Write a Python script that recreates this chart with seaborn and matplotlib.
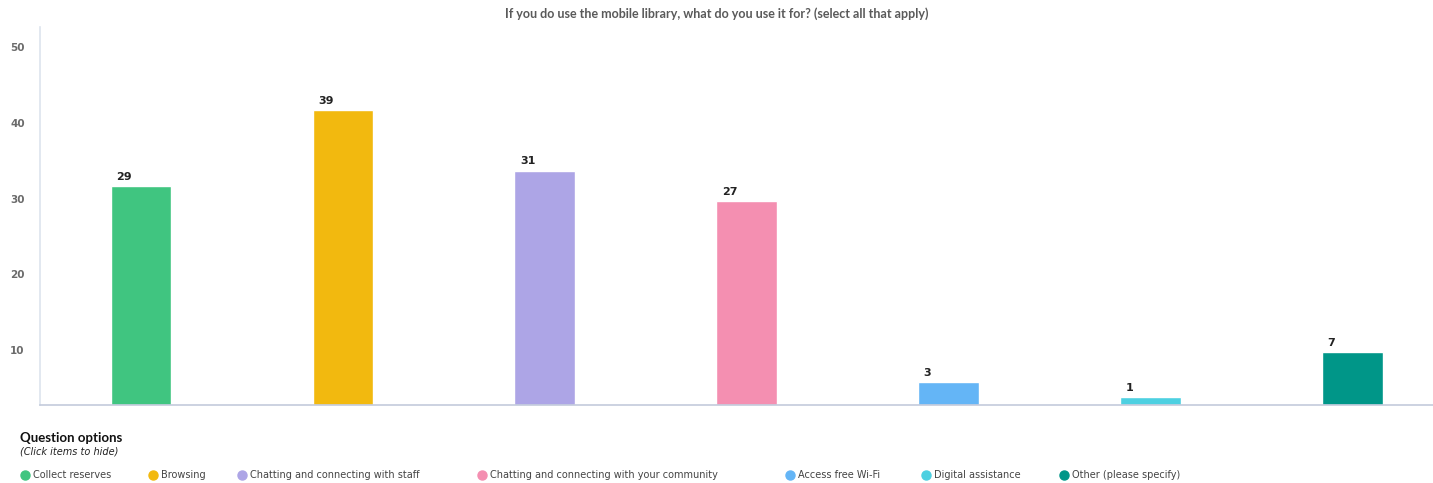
import matplotlib
matplotlib.use("Agg")
import matplotlib.pyplot as plt
from matplotlib.lines import Line2D
import seaborn as sns
import pandas as pd

categories = [
    "Collect reserves",
    "Browsing",
    "Chatting and connecting with staff",
    "Chatting and connecting with your community",
    "Access free Wi-Fi",
    "Digital assistance",
    "Other (please specify)",
]
responses = [29, 39, 31, 27, 3, 1, 7]
colors = ["#40c580", "#f2b90f", "#ada5e6", "#f48fb1", "#64b5f6", "#4dd0e1", "#009688"]
ytick_labels = [10, 20, 30, 40, 50]

# the source chart's tick labels sit offset from the bar scale
TICK_OFFSET = 2.7
# legend marker centres (figure px)
LEGEND_X = [20, 148, 237, 477, 785, 921, 1059]

W, H = 1433, 483
df = pd.DataFrame({"option": categories, "count": responses})

sns.set_style("white")
plt.rcParams["font.family"] = ["DejaVu Sans"]

fig = plt.figure(figsize=(W / 100, H / 100), dpi=100)
ax = fig.add_axes([40 / W, 1 - 405 / H, (1433 - 40) / W, (405 - 27) / H])

sns.barplot(data=df, x="option", y="count", hue="option", palette=colors,
            width=0.3, legend=False, saturation=1, ax=ax)

ax.set_xlim(-0.5, 6.40)
ax.set_ylim(0, 50)
ax.set_yticks([t - TICK_OFFSET for t in ytick_labels])
ax.set_yticklabels([str(t) for t in ytick_labels], fontsize=7.5,
                   fontweight="bold", color="#6b6b6b")
ax.tick_params(axis="y", length=0, pad=11)
ax.set_xticks([])
ax.set_xlabel("")
ax.set_ylabel("")

for side in ["top", "right"]:
    ax.spines[side].set_visible(False)
ax.spines["left"].set_color("#dde4ee")
ax.spines["left"].set_linewidth(1.2)
ax.spines["bottom"].set_color("#c3cbdc")
ax.spines["bottom"].set_linewidth(1.2)

for patch, val in zip(ax.patches, responses):
    ax.annotate(str(val), (patch.get_x(), patch.get_height()),
                xytext=(4, 3), textcoords="offset points",
                ha="left", va="bottom", fontsize=8, fontweight="bold",
                color="#222222")

fig.text(0.5, 1 - 14 / H,
         "If you do use the mobile library, what do you use it for? (select all that apply)",
         ha="center", va="center", fontsize=9, fontweight="bold",
         color="#5a5a5a", family="Lato")

fig.text(20 / W, 1 - 438 / H, "Question options", ha="left", va="center",
         fontsize=9.5, fontweight="bold", color="#111111", family="Lato")
fig.text(20 / W, 1 - 452 / H, "(Click items to hide)", ha="left", va="center",
         fontsize=7, style="italic", color="#222222")

for x, label, c in zip(LEGEND_X, categories, colors):
    handle = Line2D([], [], marker="o", linestyle="", markersize=6.5,
                    markerfacecolor=c, markeredgecolor=c)
    fig.legend([handle], [label], loc="center left",
               bbox_to_anchor=(x / W, 1 - 475 / H), frameon=False,
               fontsize=7, handletextpad=0.35, handlelength=1.0,
               borderaxespad=0, borderpad=0, labelcolor="#444444")

fig.savefig("out.png", dpi=100)
